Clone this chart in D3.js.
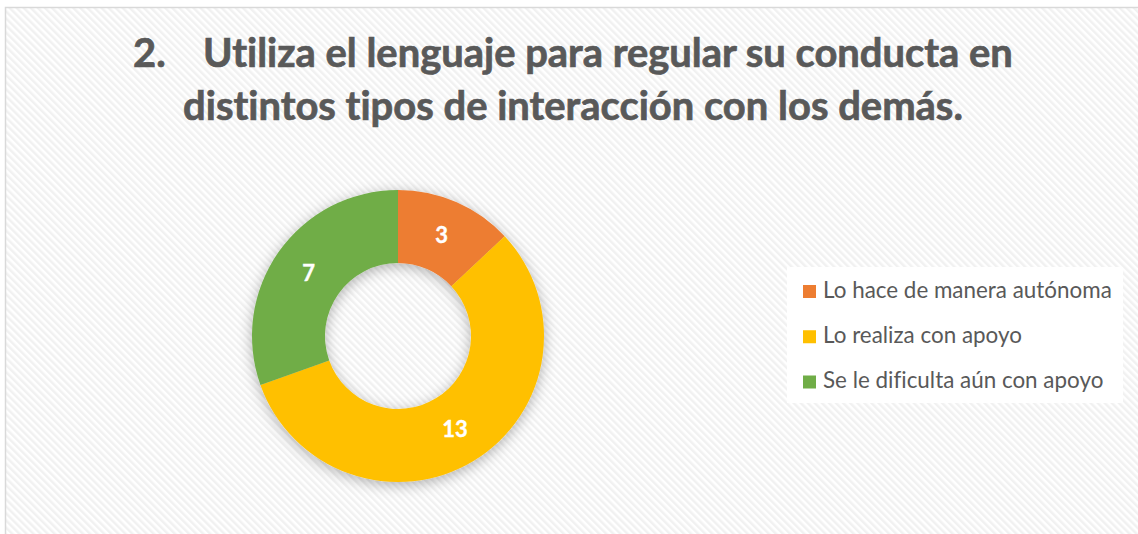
<!DOCTYPE html>
<html>
<head>
<meta charset="utf-8">
<script src="https://cdn.jsdelivr.net/npm/d3@7"></script>
<style>
  html, body { margin: 0; padding: 0; background: #ffffff; }
  svg { display: block; }
  text { font-variant-ligatures: none; font-feature-settings: "liga" 0, "clig" 0; }
</style>
</head>
<body>
<svg id="chart" width="1138" height="534"></svg>
<script>
const categories = ["Lo hace de manera autónoma", "Lo realiza con apoyo", "Se le dificulta aún con apoyo"];
const values = [3, 13, 7];
const colors = ["#ED7D31", "#FFC000", "#70AD47"];
const titleNumber = "2.";
const titleLine1 = "Utiliza el lenguaje para regular su conducta en";
const titleLine2 = "distintos tipos de interacción con los demás.";

const W = 1138, H = 534;
const svg = d3.select("#chart");
const defs = svg.append("defs");

// diagonal hatch background
const pat = defs.append("pattern")
  .attr("id", "hatch").attr("patternUnits", "userSpaceOnUse")
  .attr("width", 5).attr("height", 5)
  .attr("patternTransform", "rotate(-45)");
pat.append("rect").attr("width", 5).attr("height", 5).attr("fill", "#ffffff");
pat.append("rect").attr("x", 0).attr("width", 2.5).attr("height", 5).attr("fill", "#f1f1f1");

const shadow = defs.append("filter").attr("id", "shadow")
  .attr("x", "-30%").attr("y", "-30%").attr("width", "160%").attr("height", "160%");
shadow.append("feDropShadow").attr("dx", 0).attr("dy", 3)
  .attr("stdDeviation", 7).attr("flood-color", "#000").attr("flood-opacity", 0.3);

svg.append("rect").attr("x", 0).attr("y", 0).attr("width", W).attr("height", H).attr("fill", "#fff");
svg.append("rect").attr("x", 5.5).attr("y", 7.5).attr("width", W + 10).attr("height", H + 10)
  .attr("fill", "url(#hatch)").attr("stroke", "#d9d9d9").attr("stroke-width", 1.5);

// title
const titleFont = "Lato, 'Open Sans', sans-serif";
const tcol = "#595959";
function fitText(sel, target) {
  const fs = 36;
  sel.attr("font-size", fs);
  const w = sel.node().getComputedTextLength();
  const nfs = fs * target / w;
  sel.attr("font-size", nfs);
  return nfs;
}
const t1 = svg.append("text").attr("x", 203).attr("y", 67).text(titleLine1)
  .attr("font-family", titleFont).attr("font-weight", 700).attr("fill", tcol)
  .attr("stroke", tcol).attr("stroke-width", 0.7);
const fs1 = fitText(t1, 810);
svg.append("text").attr("x", 133).attr("y", 67).text(titleNumber)
  .attr("font-family", titleFont).attr("font-weight", 700).attr("fill", tcol)
  .attr("stroke", tcol).attr("stroke-width", 0.7).attr("font-size", fs1);
const t2 = svg.append("text").attr("x", 573).attr("y", 120).attr("text-anchor", "middle").text(titleLine2)
  .attr("font-family", titleFont).attr("font-weight", 700).attr("fill", tcol)
  .attr("stroke", tcol).attr("stroke-width", 0.7);
fitText(t2, 780);

// donut
const cx = 398, cy = 336, rOuter = 146, rInner = 73;
const pie = d3.pie().sort(null).value(d => d)(values);
const arc = d3.arc().innerRadius(rInner).outerRadius(rOuter);
const g = svg.append("g").attr("transform", `translate(${cx},${cy})`);
const slices = g.append("g").attr("filter", "url(#shadow)");
slices.selectAll("path").data(pie).join("path")
  .attr("d", arc).attr("fill", (d, i) => colors[i]);
g.selectAll("text.lbl").data(pie).join("text")
  .attr("class", "lbl")
  .attr("transform", d => `translate(${arc.centroid(d)})`)
  .attr("text-anchor", "middle").attr("dy", "0.36em")
  .attr("font-family", titleFont).attr("font-weight", 700).attr("font-size", 22)
  .attr("fill", "#ffffff").attr("stroke", "#ffffff").attr("stroke-width", 0.4)
  .text(d => d.data);

// legend
const lg = svg.append("g");
lg.append("rect").attr("x", 787).attr("y", 267).attr("width", 336).attr("height", 136).attr("fill", "#ffffff");
const rowY = d3.scalePoint().domain(categories).range([297.5, 388]);
const items = lg.selectAll("g.item").data(categories).join("g").attr("class", "item")
  .attr("transform", d => `translate(0,${rowY(d)})`);
items.append("rect").attr("x", 803).attr("y", -12.5).attr("width", 13).attr("height", 13)
  .attr("fill", (d, i) => colors[i]);
items.append("text").attr("x", 823).attr("y", 0)
  .attr("font-family", titleFont).attr("font-size", 20).attr("fill", tcol)
  .text(d => d)
  .each(function(d, i) { if (i === 0) { const w = this.getComputedTextLength(); items.selectAll("text").attr("font-size", 20 * 289 / w); } });
</script>
</body>
</html>
